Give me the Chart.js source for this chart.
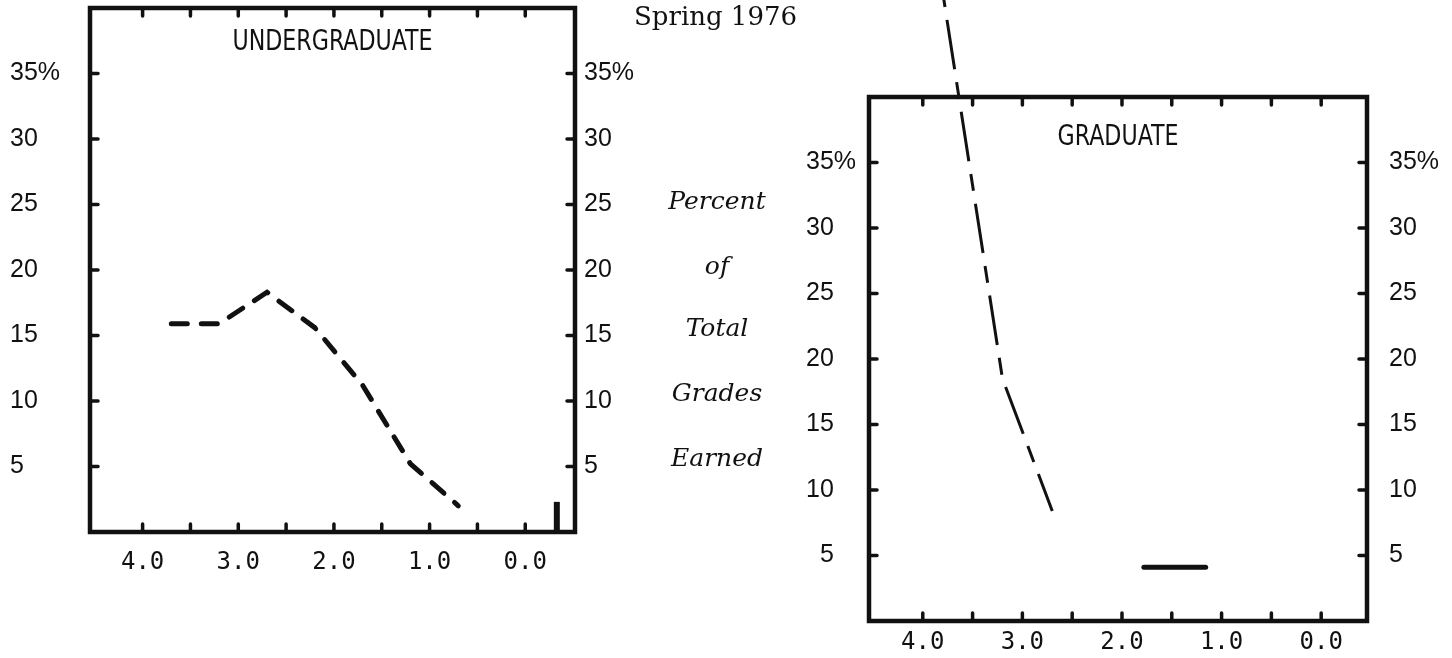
<!DOCTYPE html>
<html>
<head>
<meta charset="utf-8">
<title>Grades Earned, Spring 1976</title>
<script src="https://cdn.jsdelivr.net/npm/chart.js@4.4.1/dist/chart.umd.min.js"></script>
<style>
  html, body { margin: 0; padding: 0; background: #fff; }
  body { width: 1452px; height: 658px; position: relative; overflow: hidden; }
  canvas { position: absolute; top: 0; }
  #under { left: 0; }
  #grad { left: 726px; }
  .note { position: absolute; color: #111; font-family: "DejaVu Serif", serif; font-size: 26px; line-height: 30px; white-space: nowrap; }
  .side { font-style: italic; font-size: 25px; text-align: center; width: 160px; left: 637px; }
</style>
</head>
<body>
<canvas id="under" width="726" height="658"></canvas>
<canvas id="grad" width="726" height="658"></canvas>

<div class="note" style="left:634px; top:1px">Spring 1976</div>
<div class="note side" style="top:186px">Percent</div>
<div class="note side" style="top:251px">of</div>
<div class="note side" style="top:313px">Total</div>
<div class="note side" style="top:378px">Grades</div>
<div class="note side" style="top:443px">Earned</div>

<script>
// grade points along the bottom (4.0 = A ... 0.0 = F), percent up the sides
const gradeTicks = [0, 0.5, 1, 1.5, 2, 2.5, 3, 3.5, 4];
const percentTicks = [5, 10, 15, 20, 25, 30, 35];

// undergraduate curve
const underGrades = [3.7, 3.2, 2.7, 2.2, 1.7, 1.2, 0.7];
const underPercent = [15.9, 15.9, 18.3, 15.6, 11.2, 5.2, 2.0];
// short bar just past 0.0
const underBarGrades = [-0.33, -0.33];
const underBarPercent = [0, 2.3];

// graduate curve, first point runs off the top of the box
const gradGrades = [3.8, 3.2, 2.7];
const gradPercent = [48, 18.5, 8.4];
const gradBarGrades = [1.78, 1.16];
const gradBarPercent = [4.1, 4.1];

const INK = '#111';
const numFont = { family: '"Liberation Sans", Arial, sans-serif', size: 25, lineHeight: 1 };
const gradeFont = { family: '"DejaVu Sans Mono", monospace', size: 24, lineHeight: 1 };

function points(xs, ys) {
  return xs.map((x, i) => ({ x: x, y: ys[i] }));
}

// heavy box round the plot area, short ticks pointing inwards, panel heading
const frame = {
  id: 'frame',
  beforeDatasetsDraw(chart, args, opts) {
    const { ctx, chartArea: a, scales } = chart;
    ctx.save();
    ctx.strokeStyle = INK;
    ctx.lineCap = 'round';
    ctx.lineWidth = 3.5;
    ctx.beginPath();
    scales.x.ticks.forEach(t => {
      const px = scales.x.getPixelForValue(t.value);
      ctx.moveTo(px, a.bottom); ctx.lineTo(px, a.bottom - opts.tick);
      ctx.moveTo(px, a.top); ctx.lineTo(px, a.top + opts.tick);
    });
    scales.y.ticks.forEach(t => {
      const py = scales.y.getPixelForValue(t.value);
      ctx.moveTo(a.left, py); ctx.lineTo(a.left + opts.tick, py);
      ctx.moveTo(a.right, py); ctx.lineTo(a.right - opts.tick, py);
    });
    ctx.stroke();

    ctx.lineWidth = opts.width;
    ctx.lineCap = 'square';
    ctx.strokeRect(a.left, a.top, a.width, a.height);

    // heading, squeezed a little sideways
    ctx.fillStyle = INK;
    ctx.font = '28px "DejaVu Sans Condensed", "DejaVu Sans", sans-serif';
    ctx.textAlign = 'center';
    ctx.textBaseline = 'middle';
    ctx.translate((a.left + a.right) / 2, a.top + opts.headingY);
    ctx.scale(0.88, 1);
    ctx.fillText(opts.heading, 0, 0);
    ctx.restore();
  }
};

function percentAxis(position, width, padding, label) {
  return {
    type: 'linear',
    position: position,
    min: 0,
    max: 40,
    afterBuildTicks: s => { s.ticks = percentTicks.map(v => ({ value: v })); },
    afterFit: s => { s.width = width; s.paddingTop = 0; s.paddingBottom = 0; },
    grid: { display: false, drawTicks: false },
    border: { display: false },
    ticks: {
      color: INK,
      font: numFont,
      padding: padding,
      crossAlign: position === 'left' ? 'far' : 'near',
      autoSkip: false,
      callback: label
    }
  };
}

function gradeAxis(min, max, height, padding) {
  return {
    type: 'linear',
    reverse: true,
    min: min,
    max: max,
    afterBuildTicks: s => { s.ticks = gradeTicks.map(v => ({ value: v })); },
    afterFit: s => { s.height = height; s.paddingLeft = 0; s.paddingRight = 0; },
    grid: { display: false, drawTicks: false },
    border: { display: false },
    ticks: {
      color: INK,
      font: gradeFont,
      padding: padding,
      maxRotation: 0,
      autoSkip: false,
      callback: v => Number.isInteger(v) ? v.toFixed(1) : ''
    }
  };
}

const plain = v => v === 35 ? '35%' : String(v);
const padded = v => v === 35 ? '35%' : (v < 10 ? '\u2007' + v : String(v));

function gradeChart(id, cfg) {
  return new Chart(document.getElementById(id), {
    type: 'line',
    data: { datasets: cfg.datasets },
    options: {
      responsive: false,
      animation: false,
      events: [],
      layout: { padding: cfg.padding },
      plugins: {
        legend: { display: false },
        tooltip: { enabled: false },
        frame: { tick: 8, width: 4.5, heading: cfg.heading, headingY: cfg.headingY }
      },
      scales: {
        x: gradeAxis(cfg.xMin, cfg.xMax, cfg.xHeight, cfg.xPad),
        y: percentAxis('left', cfg.leftWidth, 0, cfg.leftLabel),
        y2: percentAxis('right', cfg.rightWidth, cfg.rightPad, plain)
      }
    },
    plugins: [frame]
  });
}

gradeChart('under', {
  heading: 'UNDERGRADUATE',
  headingY: 35,
  padding: { left: 10, top: 8, right: 0, bottom: 0 },
  leftWidth: 80,
  rightWidth: 151,
  rightPad: 9,
  leftLabel: plain,
  xMin: -0.52, xMax: 4.55, xHeight: 126, xPad: 19,
  datasets: [
    {
      data: points(underGrades, underPercent),
      borderColor: INK, borderWidth: 5, borderDash: [16, 14],
      borderCapStyle: 'round', pointRadius: 0, tension: 0, fill: false
    },
    {
      data: points(underBarGrades, underBarPercent),
      borderColor: INK, borderWidth: 6, pointRadius: 0, fill: false
    }
  ]
});

gradeChart('grad', {
  heading: 'GRADUATE',
  headingY: 41,
  padding: { left: 80, top: 97, right: 0, bottom: 0 },
  leftWidth: 63,
  rightWidth: 85,
  rightPad: 22,
  leftLabel: padded,
  xMin: -0.46, xMax: 4.54, xHeight: 37, xPad: 10,
  datasets: [
    {
      // long-short dash, phased so a long stroke crosses the top of the box
      data: points(gradGrades, gradPercent),
      borderColor: INK, borderWidth: 3, borderDash: [50, 13, 17, 13], borderDashOffset: 65,
      pointRadius: 0, tension: 0, fill: false, clip: false
    },
    {
      data: points(gradBarGrades, gradBarPercent),
      borderColor: INK, borderWidth: 5, borderCapStyle: 'round', pointRadius: 0, fill: false
    }
  ]
});
</script>
</body>
</html>
